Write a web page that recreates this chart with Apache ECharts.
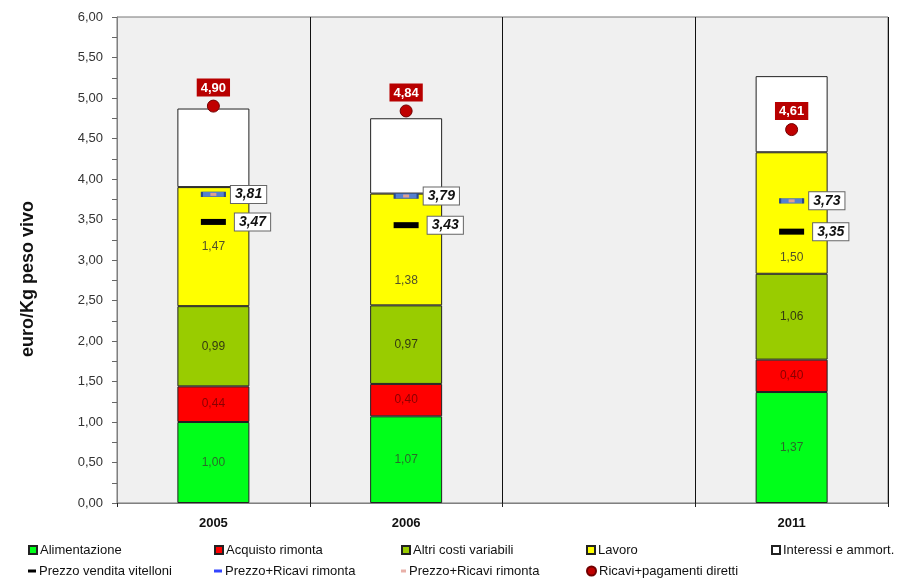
<!DOCTYPE html>
<html>
<head>
<meta charset="utf-8">
<script src="https://cdn.jsdelivr.net/npm/echarts@6/dist/echarts.min.js"></script>
<style>
  html, body { margin: 0; padding: 0; background: #ffffff; }
  #chart { width: 907px; height: 578px; }
</style>
</head>
<body>
<div id="chart"></div>
<script>
// Costi di produzione e ricavi (euro/Kg peso vivo)
var categories = ['2005', '2006', '', '2011'];

var alimentazione = [1.00, 1.07, null, 1.37];
var acquistoRimonta = [0.44, 0.40, null, 0.40];
var altriCosti = [0.99, 0.97, null, 1.06];
var lavoro = [1.47, 1.38, null, 1.50];
var interessi = [0.97, 0.93, null, 0.94];

var prezzoVendita = [3.47, 3.43, null, 3.35];
var prezzoRicavi = [3.81, 3.79, null, 3.73];
var ricaviPagamenti = [4.90, 4.84, null, 4.61];

var yTicks = { min: 0, max: 6, interval: 0.5 };

// vertical shift of the "Lavoro" value labels (px)
var lavoroLabelShift = [0, 31, 0, 45];

var FONT = '"Liberation Sans", Arial, sans-serif';

function fmt(v) {
  return Number(v).toFixed(2).replace('.', ',');
}

function barSeries(name, values, color, labelColor, shifts) {
  return {
    name: name,
    type: 'bar',
    stack: 'costi',
    barWidth: 72,
    data: values.map(function (v, i) {
      var item = { value: v };
      if (shifts && shifts[i]) {
        item.label = { offset: [0, shifts[i]] };
      }
      return item;
    }),
    itemStyle: { color: color, borderColor: '#222', borderWidth: 1, opacity: 1 },
    label: {
      show: !!labelColor,
      position: 'inside',
      formatter: function (p) { return fmt(p.value); },
      color: labelColor || '#000',
      textBorderWidth: 0,
      fontFamily: FONT,
      fontSize: 12
    },
    emphasis: { disabled: true },
    z: 2
  };
}

var markerLabel = {
  show: true,
  position: 'right',
  formatter: function (p) { return fmt(p.value); },
  backgroundColor: '#ffffff',
  borderColor: '#666',
  borderWidth: 1,
  padding: [2, 4, 1, 4],
  color: '#111',
  textBorderWidth: 0,
  fontFamily: FONT,
  fontSize: 14,
  fontWeight: 'bold',
  fontStyle: 'italic'
};

var series = [
  barSeries('Alimentazione', alimentazione, '#00ff1a', '#2a6a2a'),
  barSeries('Acquisto rimonta', acquistoRimonta, '#ff0000', '#8a0000'),
  barSeries('Altri costi variabili', altriCosti, '#99cc00', '#333a10'),
  barSeries('Lavoro', lavoro, '#ffff00', '#50502a', lavoroLabelShift),
  barSeries('Interessi e ammort.', interessi, '#ffffff', null),
  {
    name: 'Prezzo vendita vitelloni',
    type: 'scatter',
    data: prezzoVendita,
    symbol: 'rect',
    symbolSize: [25, 6],
    itemStyle: { color: '#000000', opacity: 1 },
    label: Object.assign({}, markerLabel, { distance: 9 }),
    emphasis: { disabled: true },
    z: 5
  },
  {
    name: 'Prezzo+Ricavi rimonta',
    type: 'scatter',
    data: prezzoRicavi,
    symbol: 'rect',
    symbolSize: [23, 5],
    itemStyle: { color: '#5580d0', borderColor: '#2a4a8a', borderWidth: 1, opacity: 1 },
    label: Object.assign({}, markerLabel, { distance: 5 }),
    emphasis: { disabled: true },
    z: 5
  },
  {
    name: 'Prezzo+Ricavi rimonta ',
    type: 'scatter',
    data: prezzoRicavi,
    symbol: 'rect',
    symbolSize: [6, 3],
    itemStyle: { color: '#e0a090', opacity: 1 },
    emphasis: { disabled: true },
    z: 6
  },
  {
    name: 'Ricavi+pagamenti diretti',
    type: 'scatter',
    data: ricaviPagamenti,
    symbol: 'circle',
    symbolSize: 12,
    itemStyle: { color: '#c00000', borderColor: '#700000', borderWidth: 1, opacity: 1 },
    label: {
      show: true,
      position: 'top',
      distance: 3,
      formatter: function (p) { return fmt(p.value); },
      backgroundColor: '#b80000',
      padding: [3, 4, 2, 4],
      color: '#ffffff',
      textBorderWidth: 0,
      fontFamily: FONT,
      fontSize: 13,
      fontWeight: 'bold'
    },
    emphasis: { disabled: true },
    z: 5
  }
];

// legend layout: five columns, two rows
var legendItems = [
  { name: 'Alimentazione', col: 0, row: 0, icon: 'rect', w: 8, h: 8 },
  { name: 'Acquisto rimonta', col: 1, row: 0, icon: 'rect', w: 8, h: 8 },
  { name: 'Altri costi variabili', col: 2, row: 0, icon: 'rect', w: 8, h: 8 },
  { name: 'Lavoro', col: 3, row: 0, icon: 'rect', w: 8, h: 8 },
  { name: 'Interessi e ammort.', col: 4, row: 0, icon: 'rect', w: 8, h: 8 },
  { name: 'Prezzo vendita vitelloni', col: 0, row: 1, icon: 'rect', w: 8, h: 3, color: '#000' },
  { name: 'Prezzo+Ricavi rimonta', col: 1, row: 1, icon: 'rect', w: 8, h: 3, color: '#3344ff' },
  { name: 'Prezzo+Ricavi rimonta ', col: 2, row: 1, icon: 'rect', w: 5, h: 3, color: '#e8b0a8' },
  { name: 'Ricavi+pagamenti diretti', col: 3, row: 1, icon: 'circle', w: 9, h: 9 }
];
var colLeft = [28, 214, 401, 586, 771];
var rowTop = [542, 563];

var legends = legendItems.map(function (it) {
  var d = { name: it.name, icon: it.icon };
  if (it.color) {
    d.itemStyle = { color: it.color, borderWidth: 0 };
  }
  return {
    data: [d],
    left: colLeft[it.col],
    top: rowTop[it.row],
    itemWidth: it.w,
    itemHeight: it.h,
    itemGap: 0,
    padding: 0,
    selectedMode: false,
    formatter: function (n) { return n.trim(); },
    textStyle: { fontFamily: FONT, fontSize: 13, color: '#111', padding: [0, 0, 0, -2], lineHeight: 16 }
  };
});

var chart = echarts.init(document.getElementById('chart'), null, { renderer: 'canvas' });
chart.setOption({
  animation: false,
  backgroundColor: '#ffffff',
  textStyle: { fontFamily: FONT },
  grid: {
    left: 117, top: 17, right: 19, bottom: 75,
    show: true,
    backgroundColor: '#f0f0f0',
    borderColor: '#777',
    borderWidth: 1
  },
  legend: legends,
  graphic: [{
    type: 'text',
    x: 28,
    y: 279,
    rotation: Math.PI / 2,
    style: {
      text: 'euro/Kg peso vivo',
      fill: '#111',
      font: 'bold 18px "Liberation Sans", Arial, sans-serif',
      align: 'center',
      verticalAlign: 'middle'
    }
  }],
  xAxis: {
    type: 'category',
    data: categories,
    axisLine: { show: true, lineStyle: { color: '#808080', width: 1 } },
    axisTick: { show: true, length: 4, lineStyle: { color: '#222' } },
    splitLine: { show: true, lineStyle: { color: '#111', width: 1 } },
    axisLabel: { color: '#111', fontFamily: FONT, fontSize: 13, fontWeight: 'bold', margin: 14 }
  },
  yAxis: {
    type: 'value',
    min: yTicks.min,
    max: yTicks.max,
    interval: yTicks.interval,
    axisLine: { show: true, lineStyle: { color: '#808080', width: 1 } },
    axisTick: { show: true, length: 5, lineStyle: { color: '#666' } },
    minorTick: { show: true, splitNumber: 2, length: 5, lineStyle: { color: '#666' } },
    splitLine: { show: false },
    axisLabel: {
      color: '#333',
      fontFamily: FONT,
      fontSize: 13,
      margin: 14,
      formatter: function (v) { return fmt(v); }
    }
  },
  series: series
});
</script>
</body>
</html>
